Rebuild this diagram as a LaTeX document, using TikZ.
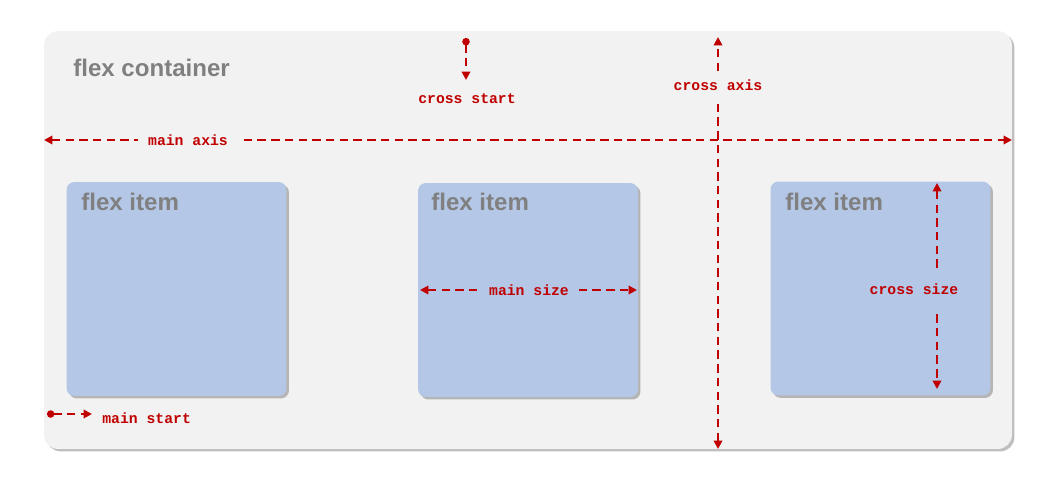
\documentclass[tikz,border=0pt]{standalone}
\usepackage{fontspec}
\setmainfont{Liberation Sans}
\newfontfamily\codefont{Liberation Mono}
\usepackage{xcolor}
\usepackage{tikz}
\usetikzlibrary{arrows.meta,shadows,positioning}
\definecolor{boxgray}{HTML}{F2F2F2}
\definecolor{itemblue}{HTML}{B4C7E7}
\definecolor{axisred}{HTML}{C00000}
\definecolor{titlegray}{HTML}{808080}

\begin{document}
\begin{tikzpicture}[x=0.02cm,y=-0.02cm,
	container/.style={fill=boxgray,rounded corners=8pt,inner sep=0pt,minimum width=19.36cm,minimum height=8.36cm,
		drop shadow={shadow xshift=1.4pt,shadow yshift=-1.4pt,fill=black,opacity=0.25}},
	item/.style={fill=itemblue,rounded corners=4.5pt,inner sep=0pt,minimum width=4.4cm,minimum height=4.28cm,
		drop shadow={shadow xshift=1.4pt,shadow yshift=-1.4pt,fill=black,opacity=0.25}},
	title/.style={anchor=west,inner sep=0pt,text=titlegray,font=\bfseries\fontsize{13.7}{16}\selectfont},
	code/.style={inner xsep=6pt,inner ysep=5pt,text=axisred,font=\codefont\bfseries\fontsize{8.4}{10}\selectfont},
	axis/.style={draw=axisred,line width=1.25pt,dash pattern=on 4.8pt off 3pt,
		arrows={-Triangle[length=4.8pt,width=4.8pt]}},
	both/.style={axis,arrows={Triangle[length=4.8pt,width=4.8pt]-Triangle[length=4.8pt,width=4.8pt]}},
	start/.style={axis,arrows={Circle[length=4.2pt]-Triangle[length=4.8pt,width=4.8pt]}}]
		\useasboundingbox (0,0) rectangle (1062,481);
		% container and items
		\node[container] (cont) at (528,240) {};
		\node[title] (conttitle) at (73,68) {flex container};
		\node[item] (item1) at (176.5,289) {};
		\node[item] (item2) at (528,290) {};
		\node[item] (item3) at (880.5,288.5) {};
		\node[title] (title1) at (81,202) {flex item};
		\node[title] (title2) at (431,202) {flex item};
		\node[title] (title3) at (785,202) {flex item};
		% axes
		\coordinate (maL) at (44,140);
		\coordinate (maR) at (1012,140);
		\coordinate (caT) at (718,37);
		\coordinate (caB) at (718,449);
		\draw[both] (maL) -- (maR);
		\draw[both] (caB) -- (caT);
		\node[code,fill=boxgray] (malabel) at (188,140) {main axis};
		\node[code,fill=boxgray] (calabel) at (718,85) {cross axis};
		% starts
		\coordinate (csA) at (466,38);
		\coordinate (csB) at (466,80);
		\draw[start] (csA) -- (csB);
		\node[code] (cslabel) at (467,99) {cross start};
		\coordinate (msA) at (47,414);
		\coordinate (msB) at (92,414);
		\draw[start] (msA) -- (msB);
		\node[code,anchor=west,inner sep=0pt] (mslabel) at (102,418) {main start};
		% sizes
		\coordinate (mzL) at (420,290);
		\coordinate (mzR) at (637,290);
		\draw[both] (mzL) -- (mzR);
		\node[code,fill=itemblue] (mzlabel) at (529,290) {main size};
		\coordinate (czT) at (937,183);
		\coordinate (czB) at (937,389);
		\draw[both] (czT) -- (czB);
		\node[code,fill=itemblue,inner ysep=9pt] (czlabel) at (914,289) {cross size};
\end{tikzpicture}
\end{document}
